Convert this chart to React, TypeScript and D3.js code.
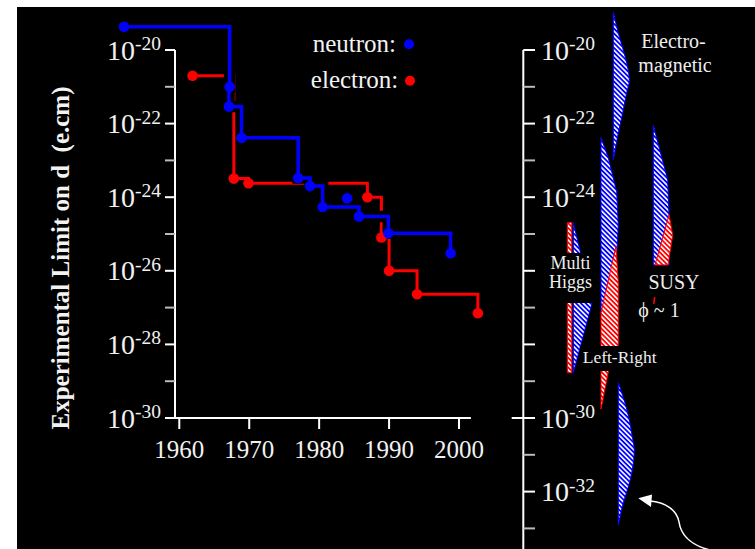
import * as d3 from 'd3';

const neutronYears = [1952.1, 1967.2, 1967.1, 1968.9, 1977.0, 1978.7, 1980.5, 1985.7, 1989.9, 1998.8];
const neutronLimits = [4.3e-20, 1.0e-21, 2.9e-22, 4.1e-23, 3.3e-24, 2.0e-24, 5.4e-25, 3.0e-25, 1.05e-25, 3.0e-26];
const neutronExtraYears = [1984.0];
const neutronExtraLimits = [9.3e-25];

const electronYears = [1961.9, 1967.8, 1969.9, 1986.9, 1988.9, 1990.0, 1994.0, 2002.7];
const electronLimits = [2.0e-21, 3.2e-24, 2.4e-24, 1.0e-24, 8e-26, 1.0e-26, 2.3e-27, 7e-28];

const yearTicks = [1960, 1970, 1980, 1990, 2000];
const leftExpLabels = [-20, -22, -24, -26, -28, -30];
const rightExpLabels = [-20, -22, -24, -30, -32];

// theory predictions: log10(d) along the profile, left / right edge (relative width)
const emExp = [-18.97, -19.54, -20.0, -20.46, -20.82, -21.17, -21.63, -22.26, -22.99];
const emHi = [0, 0.25, 0.5, 0.715, 0.8, 0.665, 0.5, 0.25, 0];

const lrBlueExp = [-22.38, -22.93, -23.85, -24.76, -25.43, -27.15];
const lrBlueHi = [0, 0.365, 0.785, 0.865, 0.8, 0];

const lrRedExp = [-25.33, -26.33, -27.15, -28.02, -28.75, -29.76];
const lrRedLo = [0.75, 0.335, 0, 0, 0, 0];
const lrRedHi = [0.75, 0.865, 0.865, 0.865, 0.365, 0];

const lrLowExp = [-29.04, -29.59, -30.05, -30.51, -30.87, -31.41, -31.87, -32.31, -32.91];
const lrLowHi = [0, 0.335, 0.55, 0.7, 0.8, 0.7, 0.5, 0.25, 0];

const mhBlueExp = [-24.69, -26.85, -28.77];
const mhBlueHi = [0, 0.95, 0];
const mhRedExp = [-24.69, -28.77];
const mhRedHi = [0.215, 0.215];

const susyBlueExp = [-22.04, -22.77, -23.53, -24.48, -25.84];
const susyBlueHi = [0, 0.35, 0.72, 0.785, 0.785];
const susyRedExp = [-24.48, -25.03, -25.84];
const susyRedLo = [0.785, 0.505, 0.085];
const susyRedHi = [0.785, 0.97, 0.735];

const W = 755;
const H = 549;
const font = '"Liberation Serif", "Times New Roman", serif';
const BLUE = '#0000ff';
const RED = '#ff0000';

type Shape = { exps: number[]; lo?: number[]; hi: number[]; col: number; color: 'blue' | 'red'; smooth?: boolean };

export default function App() {
    const x = d3.scaleLinear().domain([1960, 2000]).range([179.3, 459]);
    const y = d3.scaleLog().domain([1e-20, 1e-30]).range([50, 418]);
    const ye = (e: number) => y(Math.pow(10, e));
    const w = d3.scaleLinear().domain([0, 1]).range([0, 20]);

    const stepLine = (years: number[], vals: number[]) =>
        d3
            .line<number>()
            .x((_, i) => x(years[i]))
            .y(d => y(d))
            .curve(d3.curveStepAfter)(vals) ?? '';

    const neutronPath = stepLine(neutronYears, neutronLimits);
    const electronPath = stepLine(electronYears, electronLimits);

    const axisX = 175;
    const rightAxisX = 523.3;

    const shapes: Shape[] = [
        { exps: emExp, hi: emHi, col: 613.3, color: 'blue', smooth: true },
        { exps: lrBlueExp, hi: lrBlueHi, col: 601, color: 'blue' },
        { exps: lrRedExp, lo: lrRedLo, hi: lrRedHi, col: 601, color: 'red' },
        { exps: lrLowExp, hi: lrLowHi, col: 618.3, color: 'blue', smooth: true },
        { exps: mhRedExp, hi: mhRedHi, col: 567.5, color: 'red' },
        { exps: mhBlueExp, hi: mhBlueHi, col: 573.3, color: 'blue' },
        { exps: susyBlueExp, hi: susyBlueHi, col: 653.3, color: 'blue' },
        { exps: susyRedExp, lo: susyRedLo, hi: susyRedHi, col: 653.3, color: 'red' },
    ];

    const shapePath = (s: Shape) =>
        d3
            .area<number>()
            .y(d => ye(d))
            .x0((_, i) => s.col + w(s.lo ? s.lo[i] : 0))
            .x1((_, i) => s.col + w(s.hi[i]))
            .curve(s.smooth ? d3.curveMonotoneY : d3.curveLinear)(s.exps) ?? '';

    return (
        <svg width={W} height={H} style={{ position: 'absolute', left: 0, top: 0, background: '#fff' }} fontFamily={font}>
            <defs>
                <pattern id="hatchBlue" width="3.4" height="3.4" patternUnits="userSpaceOnUse" patternTransform="rotate(-45)">
                    <rect width="3.4" height="3.4" fill={BLUE} />
                    <rect width="1.6" height="3.4" fill="#fff" />
                </pattern>
                <pattern id="hatchRed" width="3.4" height="3.4" patternUnits="userSpaceOnUse" patternTransform="rotate(-45)">
                    <rect width="3.4" height="3.4" fill={RED} />
                    <rect width="1.6" height="3.4" fill="#fff" />
                </pattern>
            </defs>
            <rect x={17} y={7} width={W - 17} height={H - 7} fill="#000" />

            {/* left y axis */}
            <line x1={axisX} x2={axisX} y1={y(1e-20)} y2={y(1e-30)} stroke="#fff" strokeWidth={2} />
            {d3.range(-30, -19).map(e => (
                <line key={e} x1={165} x2={axisX} y1={ye(e)} y2={ye(e)}
                    stroke={e % 2 === 0 ? '#fff' : '#bbb'} strokeWidth={2} />
            ))}
            {leftExpLabels.map(e => (
                <text key={e} x={161} y={ye(e) + 9.5} textAnchor="end" fontSize={28} fill="#f2f2f2">
                    10<tspan dy={-9.5} fontSize={19.5}>{e}</tspan>
                </text>
            ))}

            {/* x axis */}
            <line x1={axisX} x2={x(2001.7)} y1={y(1e-30)} y2={y(1e-30)} stroke="#fff" strokeWidth={2} />
            {yearTicks.map(t => (
                <g key={t}>
                    <line x1={x(t)} x2={x(t)} y1={y(1e-30)} y2={y(1e-30) + 11} stroke="#fff" strokeWidth={2} />
                    <text x={x(t)} y={458} textAnchor="middle" fontSize={25} fill="#f2f2f2">{t}</text>
                </g>
            ))}

            <text transform="translate(68.5,258) rotate(-90)" textAnchor="middle" fontSize={25}
                fontWeight="bold" fill="#f2f2f2" style={{ whiteSpace: 'pre' }}>
                {'Experimental Limit on d  (e.cm)'}
            </text>

            {/* data */}
            <path d={electronPath} fill="none" stroke={RED} strokeWidth={3} />
            <path d={neutronPath} fill="none" stroke="#000" strokeWidth={11.5} />
            <path d={neutronPath} fill="none" stroke={BLUE} strokeWidth={3.5} />
            {electronLimits.map((v, i) => (
                <circle key={i} cx={x(electronYears[i])} cy={y(v)} r={5.3} fill={RED} />
            ))}
            {neutronLimits.map((v, i) => (
                <circle key={i} cx={x(neutronYears[i])} cy={y(v)} r={5.3} fill={BLUE} />
            ))}
            {neutronExtraLimits.map((v, i) => (
                <circle key={i} cx={x(neutronExtraYears[i])} cy={y(v)} r={5.3} fill={BLUE} />
            ))}

            {/* legend */}
            <text x={396} y={51.7} textAnchor="end" fontSize={25} fill="#f2f2f2">neutron:</text>
            <circle cx={409} cy={44.3} r={5} fill={BLUE} />
            <text x={398.3} y={88} textAnchor="end" fontSize={25} fill="#f2f2f2">electron:</text>
            <circle cx={410} cy={80.7} r={5} fill={RED} />

            {/* right panel axis */}
            <line x1={rightAxisX} x2={rightAxisX} y1={y(1e-20)} y2={H} stroke="#fff" strokeWidth={2} />
            {d3.range(-33, -19).map(e => (
                <line key={e} x1={e === -30 ? 511.7 : rightAxisX} x2={535} y1={ye(e)} y2={ye(e)}
                    stroke={e % 2 === 0 ? '#fff' : '#bbb'} strokeWidth={2} />
            ))}
            {rightExpLabels.map(e => (
                <text key={e} x={541} y={ye(e) + 9.5} fontSize={28} fill="#f2f2f2">
                    10<tspan dy={-9.5} fontSize={19.5}>{e}</tspan>
                </text>
            ))}

            {/* theory predictions */}
            {shapes.map((s, i) => (
                <path key={i} d={shapePath(s)} fill={`url(#${s.color === 'blue' ? 'hatchBlue' : 'hatchRed'})`}
                    stroke={s.color === 'blue' ? BLUE : RED} strokeWidth={1} />
            ))}

            {/* labels with knock-out boxes */}
            <rect x={547} y={253} width={50} height={50} fill="#000" />
            <text x={570.5} y={269} textAnchor="middle" fontSize={18} fill="#eee">Multi</text>
            <text x={570.5} y={288} textAnchor="middle" fontSize={18} fill="#eee">Higgs</text>

            <rect x={580} y={346} width={80} height={25} fill="#000" />
            <text x={582.7} y={363.3} fontSize={17.5} fill="#eee">Left-Right</text>

            <text x={673.5} y={48} textAnchor="middle" fontSize={20} fill="#eee">Electro-</text>
            <text x={675} y={71.5} textAnchor="middle" fontSize={20} fill="#eee">magnetic</text>

            <text x={674} y={289.3} textAnchor="middle" fontSize={20} fill="#eee">SUSY</text>
            <text x={638.3} y={316.7} fontSize={20} fill="#eee" style={{ whiteSpace: 'pre' }}>{'\u03D5 ~ 1'}</text>
            <line x1={654.6} x2={653.8} y1={297} y2={304} stroke={RED} strokeWidth={1.6} />

            {/* arrow */}
            <path d="M650,501 C665,502 677,510 679,522 C681,535 690,545 710,550" fill="none" stroke="#fff" strokeWidth={1.5} />
            <path d="M638.3,498.3 L652,494.5 L651,507 Z" fill="#fff" />
        </svg>
    );
}
